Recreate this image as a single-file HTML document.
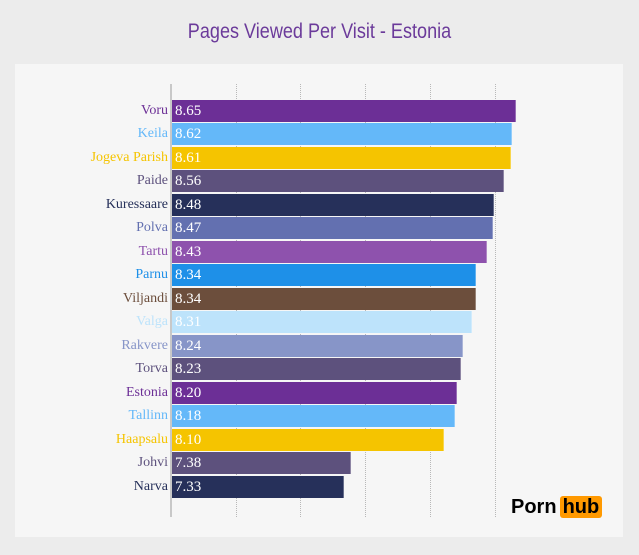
<!DOCTYPE html>
<html><head><meta charset="utf-8"><style>
body{margin:0;width:639px;height:555px;background:#ececec;position:relative;overflow:hidden;font-family:"Liberation Serif",serif}
.panel{position:absolute;left:15px;top:64px;width:608px;height:473px;background:#f6f6f6}
.title{position:absolute;left:0;width:639px;top:20px;text-align:center;font-family:"Liberation Sans",sans-serif;font-size:21px;color:#6b3a9a;transform:scaleX(.86)}
.axis{position:absolute;left:170px;top:84px;width:2px;height:433px;background:#c8c8c8}
.grid{position:absolute;top:84px;height:433px;border-left:1px dotted #b8b8b8}
.lab{position:absolute;right:471px;font-size:14px;height:22px;line-height:22px;white-space:nowrap}
.bar{position:absolute;left:172px;height:22px;line-height:22px;color:#fff;font-size:15px;padding-left:3px;box-sizing:border-box;border-right:1px solid rgba(255,255,255,.3)}
.logo{position:absolute;left:511px;top:496px;font-family:"Liberation Sans",sans-serif;font-weight:bold;font-size:20px;color:#000}
.logo span{background:#ff9900;color:#000;border-radius:3px;padding:0 3px;margin-left:3px}
</style></head><body>
<div class="panel"></div>
<div class="title">Pages Viewed Per Visit - Estonia</div>
<div class="grid" style="left:236px"></div><div class="grid" style="left:300px"></div><div class="grid" style="left:365px"></div><div class="grid" style="left:430px"></div><div class="grid" style="left:495px"></div>
<div class="axis"></div>
<div id="c"></div>
<div class="logo">Porn<span>hub</span></div>
<script>
var d=[["Voru",8.65,"#6c2f96"],["Keila",8.62,"#64b8f9"],["Jogeva Parish",8.61,"#f5c400"],["Paide",8.56,"#5d517d"],["Kuressaare",8.48,"#26305a"],["Polva",8.47,"#6370b0"],["Tartu",8.43,"#8e52ad"],["Parnu",8.34,"#1e90e8"],["Viljandi",8.34,"#6c4e3c"],["Valga",8.31,"#bde3fb"],["Rakvere",8.24,"#8795c8"],["Torva",8.23,"#5d517d"],["Estonia",8.20,"#6c2f96"],["Tallinn",8.18,"#64b8f9"],["Haapsalu",8.10,"#f5c400"],["Johvi",7.38,"#5d517d"],["Narva",7.33,"#26305a"]];
var h="";d.forEach(function(r,i){var y=100+i*23.47;var w=172+(r[1]-7.33)*130.3;
h+='<div class="lab" style="top:'+y+'px;color:'+r[2]+'">'+r[0]+'</div><div class="bar" style="top:'+y+'px;width:'+w+'px;background:'+r[2]+'">'+r[1].toFixed(2)+'</div>';});
document.getElementById("c").innerHTML=h;
</script>
</body></html>
